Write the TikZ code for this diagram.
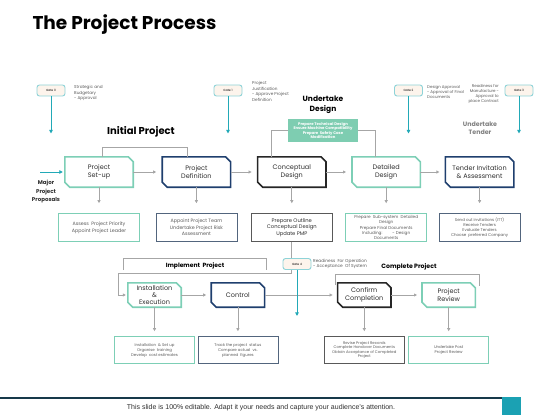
\documentclass[tikz,border=0pt]{standalone}
\usepackage{fontspec}
\setmainfont{Poppins}
\newfontfamily\footfont{Liberation Sans}
\usepackage{tikz}
\usetikzlibrary{arrows.meta, positioning, calc}

\definecolor{mint}{HTML}{7DCFB6}
\definecolor{navy}{HTML}{1F3F6E}
\definecolor{ink}{HTML}{262626}
\definecolor{gateteal}{HTML}{22A9B7}
\definecolor{gateedge}{HTML}{8ED3D8}
\definecolor{gatefill}{HTML}{FDF4EC}
\definecolor{linegray}{HTML}{A6A6A6}
\definecolor{steel}{HTML}{52657D}
\definecolor{techgreen}{HTML}{7ECDB1}
\definecolor{textgray}{HTML}{595959}
\definecolor{textdark}{HTML}{2E2E2E}
\definecolor{footnavy}{HTML}{17394A}
\definecolor{footteal}{HTML}{1BA1B3}

% frame with cut top-right and bottom-left corners
\newcommand{\cutframe}[2]{%
  \draw[stageline, draw=#2] (#1.north west) -- ([xshift=-5pt]#1.north east) -- ([yshift=-5pt]#1.north east)
    -- (#1.south east) -- ([xshift=5pt]#1.south west) -- ([yshift=5pt]#1.south west) -- cycle;}

\begin{document}
\begin{tikzpicture}[
  x=1pt, y=-1pt,
  stage/.style={rectangle, fill=white, minimum width=68pt, minimum height=30pt, inner sep=0pt, align=center, text=textdark, font=\fontsize{6.5}{8}\selectfont},
  lowstage/.style={minimum width=53pt, minimum height=24pt, font=\fontsize{6.5}{7.3}\selectfont},
  stageline/.style={line width=1.6pt, line join=miter},
  note/.style={rectangle, draw, line width=0.7pt, minimum width=81pt, minimum height=28pt, inner sep=1pt, align=center, text=textgray, font=\fontsize{4.8}{6.6}\selectfont},
  lownote/.style={minimum width=80pt, minimum height=27pt, font=\fontsize{3.9}{5}\selectfont},
  gatebox/.style={rectangle, rounded corners=2.5pt, draw=gateedge, fill=gatefill, line width=0.9pt, minimum width=28pt, minimum height=11pt, inner sep=0pt, font=\fontsize{3}{3.5}\selectfont},
  gatenote/.style={align=left, inner sep=0pt, text=textgray, font=\fontsize{4.2}{5.8}\selectfont},
  techbox/.style={rectangle, fill=techgreen, text=white, minimum width=70pt, minimum height=23pt, inner sep=1pt, align=center, font=\fontsize{3.8}{4.5}\selectfont\bfseries},
  phase/.style={align=center, font=\fontsize{7.5}{9.5}\selectfont\bfseries},
  flow/.style={-{Triangle[length=3pt, width=3pt]}, draw=linegray, line width=0.8pt},
  gatearrow/.style={-{Triangle[length=3.5pt, width=3.5pt]}, draw=gateteal, line width=1pt},
  bracket/.style={draw=linegray, line width=0.8pt}
]
\useasboundingbox (0,0) rectangle (560,420);

% Title
\node[anchor=west, font=\fontsize{18.5}{22}\selectfont\bfseries] (title) at (29,25) {The Project Process};

% Gates
\node[gatebox] (gate0) at (51,90.5) {Gate 0};
\node[gatebox] (gate1) at (228,90.5) {Gate 1};
\node[gatebox] (gate2) at (408.5,90.5) {Gate 2};
\node[gatebox] (gate3) at (519,90.5) {Gate 3};
\node[gatenote, anchor=north west] (note0) at (74,85) {Strategic and\\Budgetary\\- Approval};
\node[gatenote, anchor=north west] (note1) at (252,81) {Project\\Justification\\- Approve Project\\Definition};
\node[gatenote, anchor=north west, font=\fontsize{4}{5.2}\selectfont] (note2) at (427,85) {Design Approval\\- Approval of Final\\Documents};
\node[gatenote, anchor=north east, align=right, font=\fontsize{4}{5.2}\selectfont] (note3) at (499,84) {Readiness for\\Manufacture -\\Approval to\\place Contract};
\coordinate[below=37pt of gate0] (tip0);
\coordinate[below=37pt of gate1] (tip1);
\coordinate[below=37pt of gate2] (tip2);
\coordinate[below=37pt of gate3] (tip3);
\draw[gatearrow] (gate0) -- (tip0);
\draw[gatearrow] (gate1) -- (tip1);
\draw[gatearrow] (gate2) -- (tip2);
\draw[gatearrow] (gate3) -- (tip3);

% Phase labels
\node[phase, font=\fontsize{10}{12}\selectfont\bfseries] (initlbl) at (141,132) {Initial Project};
\node[phase] (designlbl) at (323,105) {Undertake\\Design};
\node[phase, text=gray, font=\fontsize{6.3}{8}\selectfont\bfseries] (tenderlbl) at (480,128.5) {Undertake\\Tender};

% Main stages
\node[stage] (setup) at (99,172) {Project\\Set-up};
\node[stage, right=29pt of setup] (define) {Project\\Definition};
\node[stage, right=27pt of define] (concept) {Conceptual\\Design};
\node[stage, right=26pt of concept] (detail) {Detailed\\Design};
\node[stage, right=25pt of detail] (tender) {Tender Invitation\\\& Assessment};
\cutframe{setup}{mint}
\cutframe{define}{navy}
\cutframe{concept}{ink}
\cutframe{detail}{mint}
\cutframe{tender}{navy}

% Input
\coordinate (inflow) at (40,172);
\draw[gatearrow, shorten >=2pt] (inflow) -- (setup);
\node[align=center, text=textdark, font=\fontsize{5.5}{8.5}\selectfont\bfseries] (proposals) at (46,192) {Major\\Project\\Proposals};

% Brackets
\coordinate (initL) at (102,147);
\coordinate (initR) at (187,147);
\draw[bracket] (setup.north -| initL) -- (initL) -- (initR) -- (define.north -| initR);
\coordinate (desL) at (271,130);
\coordinate (desR) at (375,130);
\draw[bracket] (concept.north -| desL) -- (desL) -- (desR) -- (detail.north -| desR);
\node[techbox] (tech) at (323,130.5) {Prepare Technical Design\\Ensure Machine Compatibility\\Prepare\ \ Safety Case\\Modification};

% Stage arrows
\draw[flow, shorten >=6pt] (setup) -- (define);
\draw[flow, shorten >=6pt] (define) -- (concept);
\draw[flow, shorten >=6pt] (concept) -- (detail);
\draw[flow, shorten >=6pt] (detail) -- (tender);

% Descriptions
\node[note, draw=mint, below=26pt of setup] (dsetup) {Assess\ \ Project Priority\\Appoint Project Leader};
\node[note, draw=steel, below=26pt of define] (ddefine) {Appoint Project Team\\Undertake Project Risk\\Assessment};
\node[note, draw=textgray, text=textdark, font=\fontsize{5.2}{6.6}\selectfont, below=26pt of concept] (dconcept) {Prepare Outline\\Conceptual Design\\Update PMP};
\node[note, draw=mint, font=\fontsize{4.2}{5.3}\selectfont, below=26pt of detail] (ddetail) {Prepare\ \ Sub-system\ \ Detailed\\Design\\Prepare Final Documents\\Including:\hspace{10pt}- Design\\Documents};
\node[note, draw=steel, font=\fontsize{4}{5}\selectfont, below=26pt of tender] (dtender) {Send out invitations (ITT)\\Receive Tenders\\Evaluate Tenders\\Choose\ \ preferred Company};
\draw[flow, shorten >=10pt] (setup) -- (dsetup);
\draw[flow, shorten >=10pt] (define) -- (ddefine);
\draw[flow, shorten >=10pt] (concept) -- (dconcept);
\draw[flow, shorten >=10pt] (detail) -- (ddetail);
\draw[flow, shorten >=10pt] (tender) -- (dtender);

% Lower stages
\node[stage, lowstage] (install) at (154.5,295) {Installation\\\&\\Execution};
\node[stage, lowstage, right=30pt of install] (control) {Control};
\node[stage, lowstage, right=73pt of control] (confirm) {Confirm\\Completion};
\node[stage, lowstage, right=31pt of confirm] (review) {Project\\Review};
\cutframe{install}{mint}
\cutframe{control}{navy}
\cutframe{confirm}{ink}
\cutframe{review}{mint}

% Implement / Complete brackets
\coordinate (implL) at (123,270);
\coordinate (implR) at (266,270);
\draw[bracket] (implL) -- ++(0,-12) -| (implR);
\node[phase, font=\fontsize{6}{7}\selectfont\bfseries] (impllbl) at (195,265.5) {Implement\ \ Project};
\coordinate (compL) at (335,285);
\coordinate (compR) at (479,286);
\draw[bracket] (compL) -- ++(0,-11) -| (compR);
\node[phase, font=\fontsize{6.2}{7}\selectfont\bfseries] (complbl) at (409,267) {Complete Project};

% Path into implementation
\coordinate (ibend) at (118,273);
\draw[flow, shorten >=2pt] (dconcept) |- (ibend) |- (install);

% Lower stage arrows
\draw[flow, shorten >=5pt] (install) -- (control);
\draw[flow, shorten >=5pt] (control) -- (confirm);
\draw[flow, shorten >=5pt] (confirm) -- (review);

% Gate 4
\node[gatebox] (gate4) at (297,264) {Gate 4};
\node[gatenote, anchor=north west, font=\fontsize{4.3}{5}\selectfont] (note4) at (313,259) {Readiness\ \ For Operation\\- Acceptance\ \ Of System};
\coordinate[below=46pt of gate4] (tip4);
\draw[gatearrow] (gate4) -- (tip4);

% Lower descriptions
\node[note, lownote, draw=mint, below=29pt of install] (dinstall) {Installation\ \ \& Set up\\Organise\ \ training\\Develop\ \ cost estimates};
\node[note, lownote, draw=steel, below=29pt of control] (dcontrol) {Track the project\ \ status\\Compare actual\ \ vs.\\planned\ \ figures};
\node[note, lownote, draw=textgray, font=\fontsize{3.8}{4.6}\selectfont, below=29pt of confirm] (dconfirm) {Revise Project Records\\Complete Handover Documents\\Obtain Acceptance of Completed\\Project};
\node[note, lownote, draw=mint, below=29pt of review] (dreview) {Undertake Post\\Project Review};
\draw[flow, shorten >=5pt] (install) -- (dinstall);
\draw[flow, shorten >=5pt] (control) -- (dcontrol);
\draw[flow, shorten >=5pt] (confirm) -- (dconfirm);
\draw[flow, shorten >=5pt] (review) -- (dreview);

% Footer
\draw[footnavy, line width=1.5pt] (0,398) -- (502,398);
\fill[footteal] (502,397.3) rectangle (521,415);
\node[font=\footfont\fontsize{7}{8}\selectfont, text=textdark] (footer) at (261,408) {This slide is 100\% editable. Adapt it your needs and capture your audience’s attention.};

\end{tikzpicture}
\end{document}
